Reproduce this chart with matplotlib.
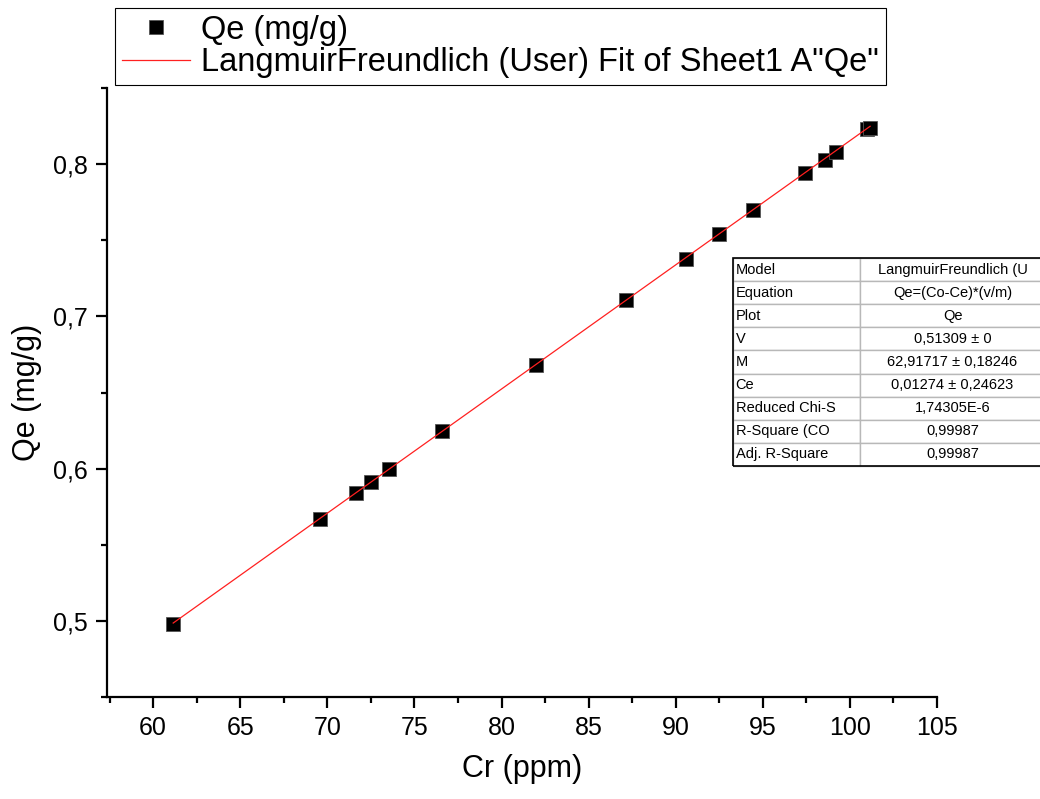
import numpy as np
import matplotlib
matplotlib.use("Agg")
import matplotlib.pyplot as plt
from matplotlib.ticker import MultipleLocator, FuncFormatter
from matplotlib.table import Table
from matplotlib.patches import Rectangle

plt.rcParams["font.family"] = ["Liberation Sans", "DejaVu Sans"]

# measured Cr concentration (ppm) and uptake Qe (mg/g)
cr_ppm = [61.15, 69.59, 71.65, 72.51, 73.55, 76.59, 81.99, 87.15,
          90.60, 92.49, 94.44, 97.43, 98.58, 99.21, 100.99, 101.16]
qe_mg_g = [0.498, 0.567, 0.584, 0.591, 0.600, 0.625, 0.668, 0.711,
           0.738, 0.754, 0.770, 0.794, 0.803, 0.808, 0.823, 0.824]

# fitted parameters, Qe = (Co - Ce) * (V / M)
fit_V = 0.51309
fit_M = 62.91717
fit_Ce = 0.01274

table_names = ["Model", "Equation", "Plot", "V", "M", "Ce",
               "Reduced Chi-S", "R-Square (CO", "Adj. R-Square"]
table_values = ["LangmuirFreundlich (U", "Qe=(Co-Ce)*(v/m)", "Qe",
                "0,51309 \u00b1 0", "62,91717 \u00b1 0,18246",
                "0,01274 \u00b1 0,24623", "1,74305E-6", "0,99987", "0,99987"]


def comma(v, pos):
    return f"{v:g}".replace(".", ",")


fig = plt.figure(figsize=(10.4, 7.99), dpi=100)
ax = fig.add_axes([107 / 1040, 1 - 697 / 799, 830 / 1040, 609 / 799])

xfit = np.array([min(cr_ppm), max(cr_ppm)])
yfit = (xfit - fit_Ce) * fit_V / fit_M
ax.plot(cr_ppm, qe_mg_g, ls="none", marker="s", ms=9.5, mfc="black",
        mec="#555555", mew=0.6, label="Qe (mg/g)", zorder=3)
ax.plot(xfit, yfit, color="#ff2020", lw=0.9,
        label='LangmuirFreundlich (User) Fit of Sheet1 A"Qe"', zorder=4)

ax.set_xlim(57.35, 105)
ax.set_ylim(0.45, 0.85)
ax.xaxis.set_major_locator(MultipleLocator(5))
ax.xaxis.set_minor_locator(MultipleLocator(2.5))
ax.yaxis.set_major_locator(MultipleLocator(0.1))
ax.yaxis.set_minor_locator(MultipleLocator(0.05))
ax.xaxis.set_major_formatter(FuncFormatter(comma))
ax.yaxis.set_major_formatter(FuncFormatter(comma))

for s in ("top", "right"):
    ax.spines[s].set_visible(False)
for s in ("left", "bottom"):
    ax.spines[s].set_linewidth(1.6)
ax.tick_params(which="major", direction="out", length=8, width=1.6,
               labelsize=18, pad=6)
ax.tick_params(which="minor", direction="out", length=4, width=1.6)

ax.set_xlabel("Cr (ppm)", fontsize=22, labelpad=10)
ax.set_ylabel("Qe (mg/g)", fontsize=22, labelpad=8)

leg = ax.legend(loc="upper left", bbox_to_anchor=(115 / 1040, 1 - 8 / 799),
                bbox_transform=fig.transFigure, borderaxespad=0,
                fontsize=23.5, frameon=True, fancybox=False, framealpha=1,
                edgecolor="black", handlelength=2.1, handletextpad=0.35,
                borderpad=0.2, labelspacing=0.05)
leg.get_frame().set_linewidth(0.8)

# parameter table
tax = fig.add_axes([733 / 1040, 1 - 466 / 799, 312 / 1040, 208 / 799])
tax.axis("off")
tab = Table(tax, bbox=[0, 0, 1, 1])
nrow = len(table_names)
w0 = 127 / 312
for r, (name, val) in enumerate(zip(table_names, table_values)):
    c0 = tab.add_cell(r, 0, width=w0, height=1 / nrow, text=name, loc="left",
                      edgecolor="#b8b8b8")
    c1 = tab.add_cell(r, 1, width=1 - w0, height=1 / nrow, text=val,
                      loc="center", edgecolor="#b8b8b8")
    c0.PAD = 0.02
tab.auto_set_font_size(False)
tab.set_fontsize(10.5)
tax.add_table(tab)
tax.add_patch(Rectangle((0, 0), 1, 1, transform=tax.transAxes, fill=False,
                        edgecolor="black", lw=1.2, clip_on=False))

fig.savefig("out.png", dpi=100)
